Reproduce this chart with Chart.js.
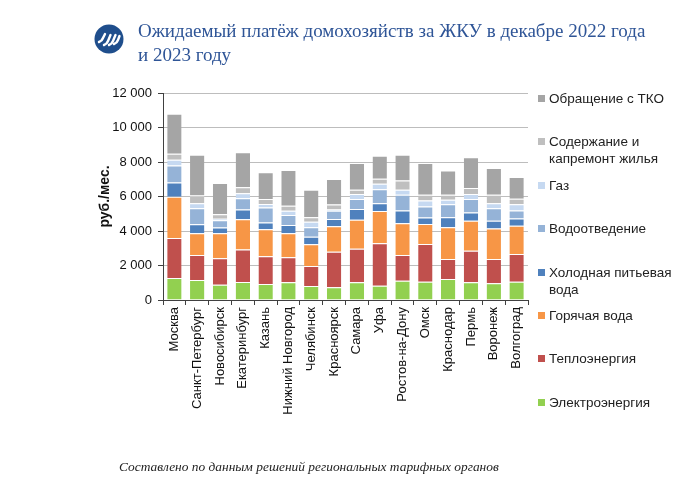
<!DOCTYPE html>
<html lang="ru">
<head>
<meta charset="utf-8">
<script src="https://cdn.jsdelivr.net/npm/chart.js@4.4.1/dist/chart.umd.min.js"></script>
<style>
  body { margin: 0; background: #fff; }
  #wrap { position: relative; width: 689px; height: 494px; overflow: hidden; }
  #chartBox { position: absolute; left: 0; top: 0; width: 689px; height: 494px; }
  #title { position: absolute; left: 138px; top: 19px; font-family: "Liberation Serif", serif; font-size: 19px; line-height: 24px; color: #2f5597; }
  #logo { position: absolute; left: 94px; top: 24px; }
  #legend { position: absolute; left: 538px; top: 90px; font-family: "Liberation Sans", Arial, sans-serif; font-size: 13.5px; color: #222; }
  .item { position: absolute; left: 0; width: 150px; line-height: 17px; }
  .item i { position: absolute; left: 0; top: 5px; width: 7px; height: 7px; }
  .item span { display: block; margin-left: 11px; }
  #note { position: absolute; left: 119px; top: 459px; font-family: "Liberation Serif", serif; font-style: italic; font-size: 13.4px; color: #222; }
</style>
</head>
<body>
<div id="wrap">
  <div id="chartBox"><canvas id="chart" width="689" height="494"></canvas></div>
  <svg id="logo" width="30" height="30" viewBox="0 0 30 30">
    <circle cx="15" cy="15" r="14.5" fill="#1f4e8c"/>
    <g stroke="#fff" stroke-width="2.4" stroke-linecap="round" fill="none">
      <path d="M5 18 Q8 17 9 14 L11 10"/>
      <path d="M10 21 Q13 20 14 17 L16.5 11"/>
      <path d="M15 21 Q18 20 19 17 L21.5 11"/>
      <path d="M20 20 Q23 19 24 16 L25.5 12"/>
    </g>
  </svg>
  <div id="title">Ожидаемый платёж домохозяйств за ЖКУ в декабре 2022 года<br>и 2023 году</div>
  <div id="legend"></div>
  <div id="note">Составлено по данным решений региональных тарифных органов</div>
</div>
<script>
const cities = ['Москва', 'Санкт-Петербург', 'Новосибирск', 'Екатеринбург', 'Казань', 'Нижний Новгород',
  'Челябинск', 'Красноярск', 'Самара', 'Уфа', 'Ростов-на-Дону', 'Омск', 'Краснодар', 'Пермь', 'Воронеж', 'Волгоград'];

const electro = [1280, 1160, 890, 1045, 930, 1030, 810, 740, 1030, 830, 1120, 1060, 1220, 1030, 970, 1060];
const teplo   = [2320, 1450, 1530, 1885, 1610, 1450, 1160, 2050, 1935, 2460, 1490, 2190, 1160, 1820, 1410, 1610];
const hotWater = [2380, 1260, 1450, 1755, 1560, 1390, 1260, 1480, 1685, 1875, 1840, 1160, 1840, 1740, 1760, 1630];
const coldWater = [830, 520, 330, 560, 390, 480, 440, 430, 620, 450, 735, 370, 580, 485, 450, 420];
const sewage  = [990, 930, 425, 655, 870, 580, 545, 480, 580, 810, 910, 640, 755, 775, 735, 465];
const gas     = [330, 290, 80, 295, 200, 250, 325, 60, 290, 310, 290, 350, 250, 290, 290, 370];
const upkeep  = [350, 450, 260, 345, 300, 290, 255, 290, 250, 290, 545, 330, 290, 350, 480, 310];
const waste   = [2320, 2360, 1815, 2030, 1550, 2070, 1590, 1480, 1550, 1335, 1490, 1840, 1410, 1780, 1550, 1260];

const yTicks = [0, 2000, 4000, 6000, 8000, 10000, 12000];

const series = [
  { label: 'Электроэнергия', data: electro, color: '#92d050' },
  { label: 'Теплоэнергия', data: teplo, color: '#c0504d' },
  { label: 'Горячая вода', data: hotWater, color: '#f79646' },
  { label: 'Холодная питьевая вода', data: coldWater, color: '#4f81bd' },
  { label: 'Водоотведение', data: sewage, color: '#95b3d7' },
  { label: 'Газ', data: gas, color: '#c6d9f1' },
  { label: 'Содержание и капремонт жилья', data: upkeep, color: '#bfbfbf' },
  { label: 'Обращение с ТКО', data: waste, color: '#a5a5a5' }
];

const fmt = v => String(v).replace(/\B(?=(\d{3})+(?!\d))/g, ' ');
const font = { family: '"Liberation Sans", Arial, sans-serif', size: 13 };

const chart = new Chart(document.getElementById('chart'), {
  type: 'bar',
  data: {
    labels: cities,
    datasets: series.map(s => ({
      label: s.label,
      data: s.data,
      backgroundColor: s.color,
      borderColor: '#ffffff',
      borderWidth: { top: 1, bottom: 0, left: 0, right: 0 },
      borderSkipped: false,
      barPercentage: 0.63,
      categoryPercentage: 1
    }))
  },
  options: {
    responsive: false,
    animation: false,
    layout: { padding: { left: 97, right: 161, top: 93, bottom: 44 } },
    plugins: { legend: { display: false }, tooltip: { enabled: false } },
    scales: {
      x: {
        stacked: true,
        grid: { display: true, drawOnChartArea: false, offset: true, tickLength: 5, color: '#404040' },
        border: { display: true, color: '#404040', width: 1 },
        ticks: { color: '#111', font, minRotation: 90, maxRotation: 90, autoSkip: false, padding: 2 },
        afterFit: s => { s.height = 150; }
      },
      y: {
        stacked: true,
        min: 0,
        max: 12000,
        afterBuildTicks: s => { s.ticks = yTicks.map(v => ({ value: v })); },
        grid: { color: '#bdbdbd', borderDash: [1, 2], tickBorderDash: [], tickColor: '#404040', tickLength: 5 },
        border: { display: true, color: '#404040', width: 1 },
        ticks: { color: '#111', font, padding: 6, callback: v => fmt(v) },
        title: { display: true, text: 'руб./мес.', color: '#111', font: { ...font, size: 14, weight: 'bold' }, padding: 0 },
        afterFit: s => { s.width = 66; }
      }
    }
  }
});

// legend, top item first
const legend = document.getElementById('legend');
chart.data.datasets.slice().reverse().forEach((ds, i) => {
  const item = document.createElement('div');
  item.className = 'item';
  item.style.top = (i * 43.4) + 'px';
  item.innerHTML = `<i style="background:${ds.backgroundColor}"></i><span>${ds.label}</span>`;
  legend.appendChild(item);
});
</script>
</body>
</html>
